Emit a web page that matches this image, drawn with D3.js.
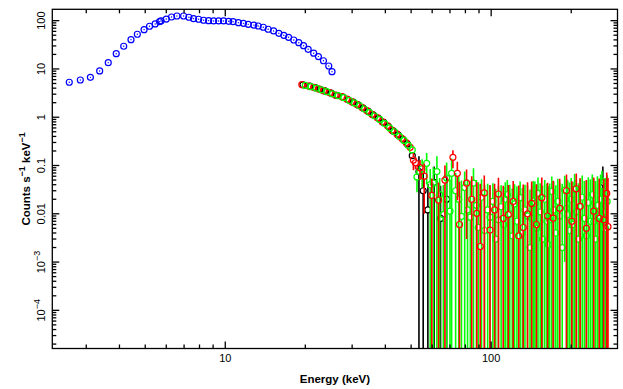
<!DOCTYPE html>
<html><head><meta charset="utf-8">
<script src="https://cdn.jsdelivr.net/npm/d3@7"></script>
<style>body{margin:0;background:#fff}svg{display:block}</style>
</head><body>
<script>
// ---------- data ----------
const xTickLabels = ["10", "100"];
const xTickValues = [10, 100];
const yTickValues = [100, 10, 1, 0.1, 0.01, 0.001, 0.0001];
const yTickLabels = [["100"], ["10"], ["1"], ["0.1"], ["0.01"], ["10", "\u22123"], ["10", "\u22124"]];

// low-energy (blue) spectrum
const blueE = [2.59,2.85,3.11,3.37,3.63,3.89,4.15,4.42,4.67,4.95,5.19,5.45,5.66,5.73,6.0,6.28,6.58,6.97,7.30,7.6,7.94,8.29,8.66,9.04,9.44,9.85,10.3,10.7,11.2,11.7,12.2,12.8,13.3,13.9,14.5,15.2,15.9,16.6,17.3,18.1,18.9,19.7,20.5,21.5,22.4,23.4,24.5,25.2];
const blueY = [5.3,5.9,6.7,9.08,13.5,20.7,29.5,40.4,52.3,65.1,76.6,85.5,95.3,98.6,108,119,125,125,117.6,110,107,102,100,98.6,98.6,98.6,97,95.3,91,88,84,81,77.6,73,66.4,61.2,54.8,49.8,45.2,39.8,35.0,30.3,25.5,21.2,18.0,14.8,11.5,8.8];

// hard X-ray spectra: black, red, green (energy keV, counts, error: relative below 50.8 keV, absolute above)
const blackE = [19.6,20.8,21.8,22.7,23.7,25.0,26.2,27.7,29.0,30.3,31.6,33.0,34.5,36.0,37.7,39.4,41.1,42.8,44.7,46.6,48.4,50.5,53.5,55.5,57.8,61.0,64.5,68.0,263.0];
const blackY = [4.7,4.4,4.1,3.8,3.5,3.15,2.85,2.6,2.3,2.05,1.8,1.55,1.32,1.12,0.95,0.78,0.64,0.52,0.43,0.35,0.28,0.16,0.075,0.030,0.012,0.045,0.008,0.020,0.045];
const blackErr = [0.1,0.1,0.1,0.09,0.09,0.08,0.08,0.07,0.07,0.06,0.06,0.05,0.05,0.05,0.04,0.04,0.04,0.035,0.035,0.035,0.035,0.04,0.08,0.04,0.03,0.05,0.03,0.04,0.05];

const redE = [19.4,20.6,21.5,22.4,23.4,24.7,25.9,27.5,28.7,29.9,31.2,32.6,34.1,35.6,37.3,38.9,40.7,42.3,44.2,46.1,47.9,49.6,51.0,51.9,54.0,56.0,59.8,63.4,67.0,71.8,74.6,76.0,80.8,84.5,88.3,91.0,94.2,99.0,103.0,106.5,111.0,116.0,121.0,127.0,132.0,137.0,142.0,148.0,155.0,163.0,171.0,181.0,192.0,201.0,209.0,216.0,228.0,243.0,255.0,265.0,272.0,275.0];
const redY = [4.75,4.43,4.17,3.85,3.55,3.22,2.89,2.67,2.36,2.10,1.85,1.61,1.37,1.15,0.98,0.81,0.67,0.54,0.45,0.366,0.297,0.238,0.13,0.114,0.090,0.060,0.024,0.0193,0.050,0.148,0.069,0.006,0.043,0.020,0.0102,0.0021,0.027,0.0046,0.012,0.0257,0.008,0.0096,0.018,0.0035,0.0052,0.010,0.0164,0.006,0.0216,0.009,0.0081,0.013,0.030,0.007,0.033,0.0143,0.005,0.0113,0.008,0.0075,0.0264,0.0054];
const redErr = [0.1,0.1,0.1,0.09,0.09,0.08,0.08,0.07,0.07,0.06,0.06,0.05,0.05,0.05,0.04,0.04,0.04,0.035,0.035,0.035,0.035,0.04,0.05,0.03,0.04,0.05,0.03,0.025,0.05,0.06,0.05,0.04,0.04,0.04,0.035,0.04,0.035,0.035,0.03,0.03,0.03,0.03,0.03,0.035,0.035,0.035,0.03,0.035,0.035,0.035,0.04,0.04,0.035,0.04,0.035,0.04,0.045,0.045,0.045,0.045,0.045,0.05];

const greenE = [20.0,21.0,22.0,23.0,24.1,25.3,26.6,27.9,29.3,30.6,32.0,33.4,34.9,36.5,38.1,39.8,41.5,43.3,45.2,47.0,48.8,50.5,52.6,55.0,57.2,59.0,60.6,62.5,64.0,66.1,68.0,70.0,71.0,73.5,75.5,77.3,79.5,81.5,83.5,85.8,88.0,89.5,92.0,94.5,97.0,99.0,101.5,104.0,106.5,109.0,111.5,113.0,115.0,117.5,120.0,122.5,125.0,128.5,131.0,134.0,137.0,140.0,142.0,144.0,146.0,148.0,150.0,153.0,156.0,159.0,162.0,164.0,166.0,169.0,172.0,175.0,178.0,181.0,185.0,189.0,192.0,194.0,197.0,200.0,203.0,206.0,209.0,213.0,216.0,220.0,224.0,228.0,232.0,236.0,240.0,243.0,247.0,251.0,255.0,258.0,261.0,265.0,269.0,273.0];
const greenY = [4.55,4.3,4.0,3.7,3.38,3.05,2.8,2.55,2.22,1.98,1.72,1.48,1.25,1.06,0.9,0.74,0.60,0.5,0.40,0.33,0.26,0.21,0.058,0.085,0.111,0.040,0.043,0.075,0.025,0.0096,0.055,0.0113,0.069,0.030,0.020,0.0088,0.035,0.012,0.0085,0.043,0.015,0.0052,0.022,0.0045,0.012,0.0085,0.018,0.0030,0.0075,0.014,0.0060,0.020,0.0248,0.010,0.0035,0.016,0.0070,0.0216,0.0040,0.012,0.0090,0.0020,0.0081,0.018,0.0164,0.0050,0.0264,0.011,0.0030,0.020,0.0070,0.0023,0.0075,0.029,0.012,0.0040,0.018,0.0090,0.0020,0.031,0.013,0.0096,0.0045,0.020,0.0060,0.032,0.011,0.0030,0.014,0.022,0.0080,0.0035,0.017,0.0070,0.025,0.0069,0.0030,0.015,0.0090,0.020,0.038,0.011,0.0050,0.018];
const greenErr = [0.1,0.1,0.1,0.09,0.09,0.08,0.08,0.07,0.07,0.06,0.06,0.05,0.05,0.05,0.04,0.04,0.04,0.035,0.035,0.035,0.035,0.04,0.03,0.05,0.07,0.045,0.05,0.08,0.03,0.03,0.06,0.04,0.07,0.04,0.04,0.04,0.04,0.04,0.04,0.045,0.035,0.04,0.03,0.035,0.03,0.03,0.025,0.03,0.03,0.025,0.03,0.025,0.025,0.03,0.03,0.025,0.03,0.025,0.03,0.028,0.03,0.03,0.03,0.03,0.03,0.035,0.03,0.032,0.035,0.03,0.035,0.035,0.035,0.03,0.035,0.035,0.035,0.035,0.04,0.03,0.04,0.04,0.04,0.035,0.04,0.035,0.04,0.04,0.04,0.04,0.04,0.045,0.04,0.045,0.04,0.045,0.045,0.045,0.045,0.045,0.04,0.045,0.05,0.045];

// ---------- layout ----------
const W = 623, H = 389;
const L = 52.3, R = 617.5, T = 9.3, B = 348.5;
const MR = 3; // marker radius
const svg = d3.select("body").append("svg").attr("width", W).attr("height", H);
const x = d3.scaleLog().domain([2.236, 298.6]).range([L, R]);
const y = d3.scaleLog().domain([1.62e-5, 172]).range([B, T]);
const font = "'Liberation Sans', 'DejaVu Sans', sans-serif";

svg.append("clipPath").attr("id", "clip").append("rect")
  .attr("x", L).attr("y", T).attr("width", R - L).attr("height", B - T);
const plot = svg.append("g").attr("clip-path", "url(#clip)");

function hard(E, Y, Er, color, keep) {
  const g = plot.append("g");
  const pts = E.map((e, i) => {
    const prev = i > 0 ? E[i - 1] : e / 1.05;
    const next = i < E.length - 1 ? E[i + 1] : e * 1.05;
    const lo = Math.max(Math.sqrt(prev * e), e / 1.025);
    const hi = Math.min(Math.sqrt(next * e), e * 1.025);
    const err = e < 50.8 ? Er[i] * Y[i] : Er[i];
    return {e, v: Y[i], lo, hi, ylo: Y[i] - err, yhi: Y[i] + err};
  }).filter(d => keep(d.e));
  // error bars drawn outside the hollow marker
  const path = d => {
    const cx = x(d.e), cy = y(d.v);
    const yb = d.ylo > 0 ? y(d.ylo) : B + 5, yt = y(d.yhi);
    let s = "";
    if (yb > cy + MR) s += `M${cx},${yb}V${cy + MR}`;
    if (yt < cy - MR) s += `M${cx},${cy - MR}V${yt}`;
    const xl = x(d.lo), xr = x(d.hi);
    if (xl < cx - MR) s += `M${xl},${cy}H${cx - MR}`;
    if (xr > cx + MR) s += `M${cx + MR},${cy}H${xr}`;
    return s || "M0,0";
  };
  g.selectAll("path").data(pts).enter().append("path")
    .attr("d", path).attr("fill", "none")
    .attr("stroke", color).attr("stroke-width", 1.6);
  g.selectAll("circle").data(pts).enter().append("circle")
    .attr("cx", d => x(d.e)).attr("cy", d => y(d.v)).attr("r", MR)
    .attr("fill", "none").attr("stroke", color).attr("stroke-width", 1.2);
}
const chain = e => e < 50.8, scat = e => e >= 50.8;
hard(blackE, blackY, blackErr, "#000000", chain);
hard(redE, redY, redErr, "#ff0000", chain);
hard(greenE, greenY, greenErr, "#00ff00", chain);
hard(blackE, blackY, blackErr, "#000000", scat);
hard(greenE, greenY, greenErr, "#00ff00", scat);
hard(redE, redY, redErr, "#ff0000", scat);

// blue
const bg = plot.append("g");
blueE.forEach((e, i) => {
  bg.append("circle").attr("cx", x(e)).attr("cy", y(blueY[i])).attr("r", 3)
    .attr("fill", "none").attr("stroke", "#0000ff").attr("stroke-width", 1.2);
  bg.append("circle").attr("cx", x(e)).attr("cy", y(blueY[i])).attr("r", 0.7)
    .attr("fill", "#0000ff");
});

// ---------- frame and ticks ----------
const ax = svg.append("g").attr("stroke", "#000").attr("stroke-width", 1.3);
ax.append("rect").attr("x", L).attr("y", T).attr("width", R - L).attr("height", B - T).attr("fill", "none");
const xMinor = [], xMajor = [];
for (let d = 1; d <= 100; d *= 10) for (let k = 1; k <= 9; k++) {
  const v = d * k; if (v < 2.236 || v > 298.6) continue;
  (k === 1 ? xMajor : xMinor).push(v);
}
xMajor.forEach(v => {
  ax.append("line").attr("x1", x(v)).attr("x2", x(v)).attr("y1", B).attr("y2", B - 7);
  ax.append("line").attr("x1", x(v)).attr("x2", x(v)).attr("y1", T).attr("y2", T + 7);
});
xMinor.forEach(v => {
  ax.append("line").attr("x1", x(v)).attr("x2", x(v)).attr("y1", B).attr("y2", B - 4);
  ax.append("line").attr("x1", x(v)).attr("x2", x(v)).attr("y1", T).attr("y2", T + 4);
});
for (let d = 1e-5; d <= 100; d *= 10) for (let k = 1; k <= 9; k++) {
  const v = d * k; if (v < 1.62e-5 || v > 172) continue;
  const len = k === 1 ? 7 : 4;
  ax.append("line").attr("x1", L).attr("x2", L + len).attr("y1", y(v)).attr("y2", y(v));
  ax.append("line").attr("x1", R).attr("x2", R - len).attr("y1", y(v)).attr("y2", y(v));
}

// ---------- labels ----------
xTickValues.forEach((v, i) => {
  svg.append("text").attr("x", x(v)).attr("y", 362).attr("text-anchor", "middle")
    .attr("font-family", font).attr("font-size", 11).text(xTickLabels[i]);
});
yTickValues.forEach((v, i) => {
  const t = svg.append("text").attr("transform", `translate(45,${y(v)}) rotate(-90)`)
    .attr("text-anchor", "middle").attr("font-family", font).attr("font-size", 11);
  const lab = yTickLabels[i];
  t.append("tspan").text(lab[0]);
  if (lab[1]) t.append("tspan").attr("dy", -5).attr("font-size", 9).text(lab[1]);
});
svg.append("text").attr("x", (L + R) / 2).attr("y", 383).attr("text-anchor", "middle")
  .attr("font-family", font).attr("font-size", 11.5).attr("font-weight", "bold").text("Energy (keV)");
const yl = svg.append("text").attr("transform", `translate(30,${(T + B) / 2}) rotate(-90)`)
  .attr("text-anchor", "middle").attr("font-family", font).attr("font-size", 11.5).attr("font-weight", "bold");
yl.append("tspan").text("Counts s");
yl.append("tspan").attr("dy", -5).attr("font-size", 9).text("\u22121");
yl.append("tspan").attr("dy", 5).text(" keV");
yl.append("tspan").attr("dy", -5).attr("font-size", 9).text("\u22121");
</script>
</body></html>
